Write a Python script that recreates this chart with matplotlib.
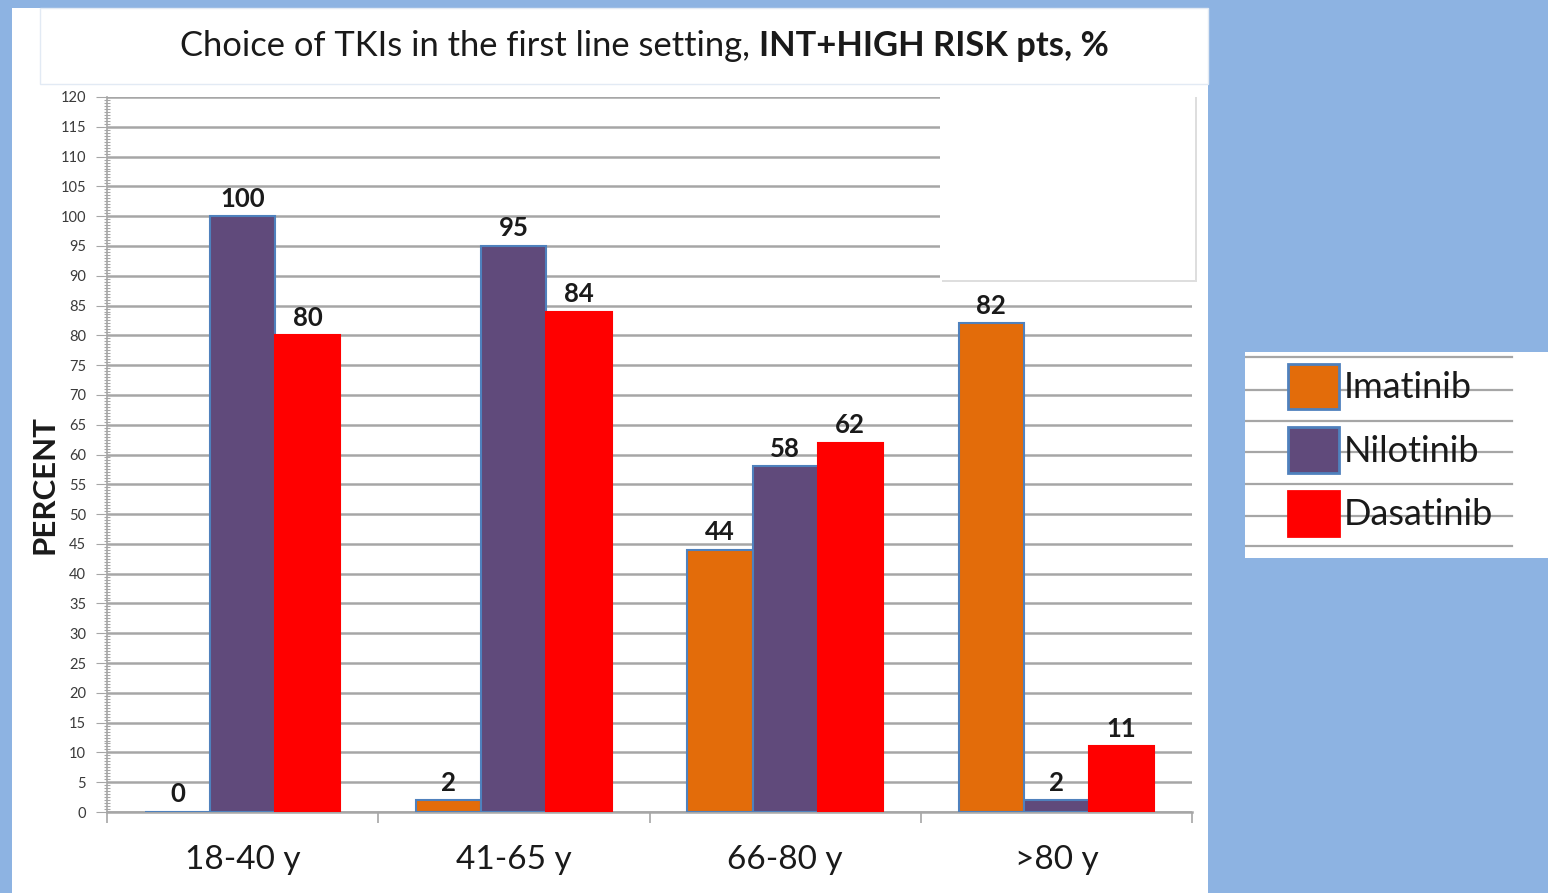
import numpy as np
import matplotlib
matplotlib.use("Agg")
import matplotlib.pyplot as plt
from matplotlib.patches import Rectangle, Patch
from matplotlib.ticker import MultipleLocator

plt.rcParams['font.family'] = ['Lato', 'DejaVu Sans']

# data
age_groups = ['18-40 y', '41-65 y', '66-80 y', '>80 y']
drugs = ['Imatinib', 'Nilotinib', 'Dasatinib']
imatinib = [0, 2, 44, 82]
nilotinib = [100, 95, 58, 2]
dasatinib = [80, 84, 62, 11]

colors = ['#E36C0A', '#604A7B', '#FF0000']
edges = ['#4F81BD', '#4F81BD', '#FF0000']

W, H = 1548, 893
fig = plt.figure(figsize=(W / 100, H / 100), dpi=100)
fig.patch.set_facecolor('#8DB3E2')


def fx(px):
    return px / W


def fy(py):
    return 1 - py / H


# white slide panel
fig.patches.append(Rectangle((fx(12), 0), fx(1208) - fx(12), fy(8), transform=fig.transFigure,
                             facecolor='white', edgecolor='none', zorder=-2))
# title box
fig.patches.append(Rectangle((fx(40), fy(84)), fx(1208) - fx(40), fy(8) - fy(84), transform=fig.transFigure,
                             facecolor='white', edgecolor='#E2EAF4', lw=1, zorder=-1))

# main chart
ax = fig.add_axes([fx(107), fy(812), fx(1192) - fx(107), fy(97) - fy(812)])
ax.set_facecolor('white')

t1 = fig.text(fx(180), fy(46), 'Choice of TKIs in the first line setting, ', fontsize=24.8,
              ha='left', va='center', color='#1a1a1a')
ax.annotate('INT+HIGH RISK pts, %', xy=(1, 0), xycoords=t1, xytext=(0, 0),
            textcoords='offset points', fontsize=24.8, fontweight='bold',
            ha='left', va='bottom', color='#1a1a1a', annotation_clip=False)

x = np.arange(len(age_groups))
width = 0.24
series = [imatinib, nilotinib, dasatinib]
for i, vals in enumerate(series):
    bars = ax.bar(x + (i - 1) * width, vals, width, color=colors[i], edgecolor=edges[i],
                  linewidth=1.5, zorder=3)
    for b, v in zip(bars, vals):
        ax.annotate(str(v), (b.get_x() + b.get_width() / 2, v), xytext=(0, 4),
                    textcoords='offset points', ha='center', va='bottom',
                    fontsize=18.5, fontweight='bold', color='#1a1a1a', zorder=4)

ax.set_xlim(-0.5, 3.5)
ax.set_ylim(0, 120)
ax.yaxis.set_major_locator(MultipleLocator(5))
ax.yaxis.set_minor_locator(MultipleLocator(0.5))
ax.grid(axis='y', color='#A6A6A6', lw=1.8, zorder=0)
ax.set_axisbelow(True)

ax.set_xticks(x)
ax.set_xticklabels(age_groups, fontsize=24, color='#1a1a1a')
ax.set_xticks(np.arange(-0.5, 4, 1), minor=True)
ax.tick_params(axis='x', which='major', length=0, pad=24)
ax.tick_params(axis='x', which='minor', length=8, color='#A6A6A6', width=1.2)
ax.tick_params(axis='y', which='major', length=8, direction='out', labelsize=10.5,
               labelcolor='#3a3a3a', color='#A6A6A6', pad=7)
ax.tick_params(axis='y', which='minor', length=5, direction='inout', color='#A6A6A6', width=0.8)
for s in ['top', 'right']:
    ax.spines[s].set_visible(False)
ax.spines['left'].set_color('#A6A6A6')
ax.spines['bottom'].set_color('#A6A6A6')
ax.spines['left'].set_linewidth(1.2)
ax.spines['bottom'].set_linewidth(1.8)

fig.text(fx(45), fy(485), 'PERCENT', rotation=90, fontsize=22.5, fontweight='bold',
         ha='center', va='center', color='#1a1a1a')

# blank box over the upper right of the plot
fig.patches.append(Rectangle((fx(942), fy(282)), fx(1195) - fx(940), fy(95) - fy(280),
                             transform=fig.transFigure, facecolor='#DEDEDE', edgecolor='none', zorder=5))
fig.patches.append(Rectangle((fx(940), fy(280)), fx(1195) - fx(940), fy(95) - fy(280),
                             transform=fig.transFigure, facecolor='white', edgecolor='none', zorder=6))

# legend panel with its ruled lines
lax = fig.add_axes([fx(1245), fy(558), fx(1548) - fx(1245), fy(352) - fy(558)])
lax.set_zorder(7)
lax.set_xlim(1245, 1548)
lax.set_ylim(558, 352)
lax.set_facecolor('white')
for yl in [357, 390, 421, 452, 484, 516, 546]:
    lax.plot([1245, 1512], [yl, yl], color='#A6A6A6', lw=1.6, zorder=1)
lax.set_xticks([])
lax.set_yticks([])
for s in lax.spines.values():
    s.set_visible(False)

handles = [Patch(facecolor=colors[i], edgecolor=edges[i], linewidth=2) for i in range(3)]
leg = lax.legend(handles, drugs, loc='upper left', bbox_to_anchor=(fx(1288), fy(364)),
                 bbox_transform=fig.transFigure, frameon=False, fontsize=26,
                 handlelength=1.4, handleheight=1.55, handletextpad=0.15,
                 labelspacing=0.5, borderpad=0, borderaxespad=0)
for t in leg.get_texts():
    t.set_color('#1a1a1a')

fig.savefig('out.png', dpi=100, facecolor=fig.get_facecolor())
